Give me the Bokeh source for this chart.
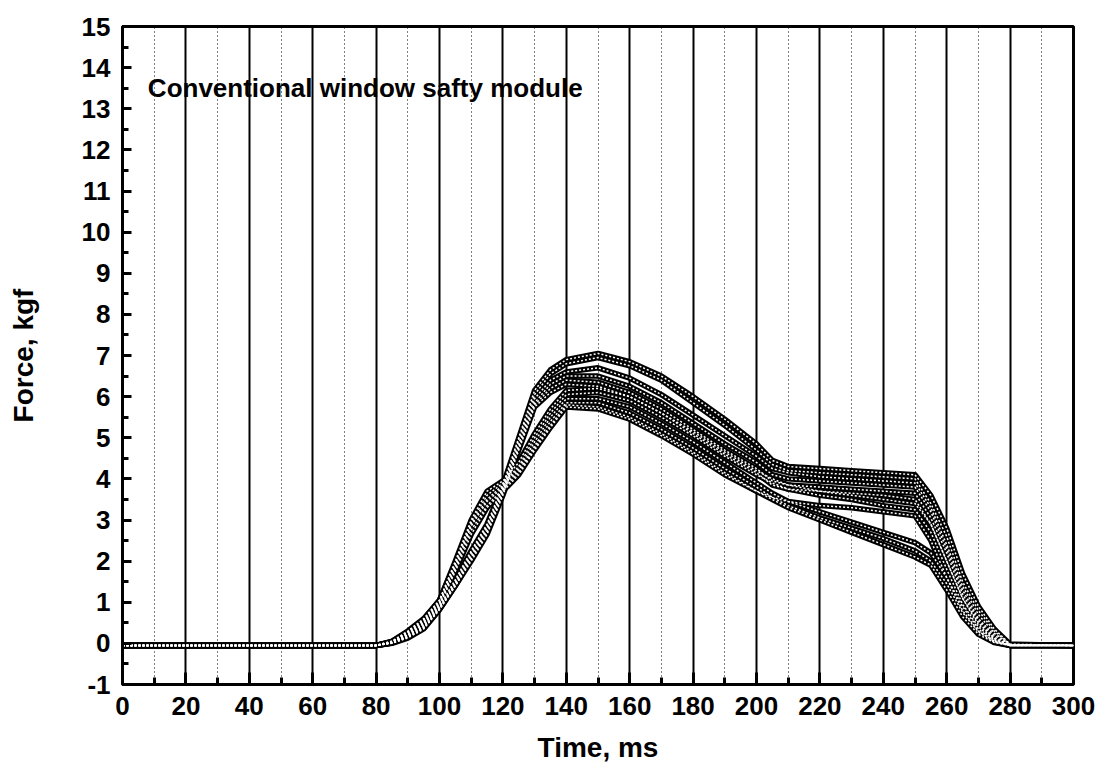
from bokeh.plotting import figure
from bokeh.models import Range1d, Label, SingleIntervalTicker, CustomJSTickFormatter
from bokeh.embed import file_html
from bokeh.resources import INLINE

# ---------------- data ----------------
time_ms = [0, 80, 85, 90, 95, 100, 105, 110, 115, 120, 125, 130, 135, 140, 150, 160,
           170, 180, 190, 200, 205, 210, 220, 230, 240, 250, 255, 260, 265, 270, 275, 280, 300]

# steeper-rising curves (higher peaks)
s1 = [-0.05, -0.05, 0.03, 0.20, 0.45, 0.90, 1.55, 2.25, 2.90, 3.85, 5.00, 6.15, 6.65, 6.90, 7.05, 6.85,
      6.50, 6.00, 5.45, 4.85, 4.45, 4.30, 4.25, 4.20, 4.15, 4.10, 3.60, 2.80, 1.70, 0.90, 0.35, -0.02, -0.05]
s2 = [-0.05, -0.05, 0.02, 0.18, 0.42, 0.88, 1.50, 2.20, 2.85, 3.80, 4.95, 6.05, 6.55, 6.80, 6.95, 6.75,
      6.40, 5.85, 5.30, 4.70, 4.35, 4.20, 4.15, 4.10, 4.05, 4.00, 3.40, 2.60, 1.50, 0.80, 0.30, -0.03, -0.05]
s3 = [-0.05, -0.05, 0.02, 0.17, 0.40, 0.85, 1.45, 2.15, 2.80, 3.75, 4.85, 5.95, 6.40, 6.60, 6.70, 6.45,
      6.05, 5.55, 5.05, 4.55, 4.25, 4.15, 4.05, 4.00, 3.95, 3.90, 3.30, 2.40, 1.40, 0.70, 0.25, -0.03, -0.05]
s4 = [-0.05, -0.05, 0.01, 0.15, 0.38, 0.85, 1.45, 2.10, 2.75, 3.70, 4.80, 5.85, 6.30, 6.50, 6.50, 6.25,
      5.85, 5.35, 4.85, 4.40, 4.10, 4.00, 3.95, 3.90, 3.85, 3.80, 3.20, 2.30, 1.30, 0.60, 0.20, -0.04, -0.05]
s5 = [-0.05, -0.05, 0.01, 0.15, 0.37, 0.83, 1.40, 2.05, 2.70, 3.65, 4.75, 5.80, 6.20, 6.40, 6.35, 6.10,
      5.70, 5.20, 4.70, 4.25, 3.95, 3.85, 3.80, 3.75, 3.70, 3.65, 3.05, 2.20, 1.20, 0.55, 0.15, -0.04, -0.05]
s6 = [-0.05, -0.05, 0.00, 0.13, 0.35, 0.82, 1.40, 2.00, 2.65, 3.60, 4.70, 5.75, 6.10, 6.30, 6.25, 6.00,
      5.60, 5.10, 4.60, 4.15, 3.85, 3.75, 3.70, 3.65, 3.60, 3.50, 2.90, 2.00, 1.10, 0.50, 0.12, -0.05, -0.05]

# curves with the shoulder near 115-120 ms (lower peaks)
h1 = [-0.05, -0.05, 0.05, 0.30, 0.60, 1.05, 2.00, 3.00, 3.70, 3.95, 4.40, 5.10, 5.70, 6.15, 6.20, 6.00,
      5.60, 5.15, 4.65, 4.20, 4.00, 3.85, 3.70, 3.60, 3.50, 3.40, 2.90, 2.00, 1.10, 0.45, 0.10, -0.05, -0.05]
h2 = [-0.05, -0.05, 0.05, 0.28, 0.58, 1.05, 1.95, 2.95, 3.60, 3.90, 4.30, 5.00, 5.60, 6.05, 6.10, 5.90,
      5.50, 5.05, 4.55, 4.10, 3.90, 3.75, 3.60, 3.50, 3.35, 3.25, 2.70, 1.80, 0.95, 0.40, 0.08, -0.05, -0.05]
h3 = [-0.05, -0.05, 0.04, 0.27, 0.55, 1.00, 1.90, 2.90, 3.50, 3.85, 4.25, 4.90, 5.50, 5.95, 5.95, 5.75,
      5.35, 4.90, 4.40, 3.90, 3.65, 3.45, 3.20, 2.95, 2.70, 2.45, 2.20, 1.60, 0.90, 0.35, 0.05, -0.05, -0.05]
h4 = [-0.05, -0.05, 0.03, 0.25, 0.52, 0.98, 1.85, 2.85, 3.45, 3.80, 4.20, 4.80, 5.40, 5.85, 5.85, 5.60,
      5.20, 4.75, 4.25, 3.80, 3.55, 3.35, 3.05, 2.80, 2.55, 2.25, 2.00, 1.45, 0.75, 0.28, 0.03, -0.05, -0.05]
h5 = [-0.05, -0.05, 0.03, 0.22, 0.50, 0.95, 1.80, 2.75, 3.35, 3.75, 4.15, 4.75, 5.30, 5.80, 5.75, 5.50,
      5.10, 4.65, 4.15, 3.70, 3.50, 3.30, 3.00, 2.70, 2.40, 2.10, 1.90, 1.30, 0.65, 0.22, 0.02, -0.05, -0.05]
h6 = [-0.05, -0.05, 0.02, 0.20, 0.48, 0.92, 1.75, 2.65, 3.30, 3.70, 4.10, 4.70, 5.25, 5.75, 5.70, 5.45,
      5.05, 4.60, 4.10, 3.70, 3.55, 3.45, 3.35, 3.30, 3.20, 3.10, 2.50, 1.60, 0.80, 0.30, 0.05, -0.05, -0.05]

curves = [s1, s2, s3, s4, s5, s6, h1, h2, h3, h4, h5, h6]

x_tick_step = 20
y_tick_step = 1
title_text = "Conventional window safty module"
x_label = "Time, ms"
y_label = "Force, kgf"

FONT = "Liberation Sans"

p = figure(width=1095, height=781, output_backend="svg", toolbar_location=None,
           x_range=Range1d(0, 300), y_range=Range1d(-1, 15),
           min_border_left=122, min_border_right=22, min_border_top=26, min_border_bottom=97)

p.background_fill_color = "white"
p.border_fill_color = "white"
p.outline_line_color = "black"
p.outline_line_width = 3

# grid: solid major verticals, dotted minor verticals, no horizontals
p.xaxis.ticker = SingleIntervalTicker(interval=x_tick_step, num_minor_ticks=2)
p.yaxis.ticker = SingleIntervalTicker(interval=y_tick_step, num_minor_ticks=2)
p.xgrid.grid_line_color = "black"
p.xgrid.grid_line_width = 2
p.xgrid.minor_grid_line_color = "black"
p.xgrid.minor_grid_line_width = 1
p.xgrid.minor_grid_line_dash = "1 3"
p.ygrid.grid_line_color = None

plain = CustomJSTickFormatter(code="return tick.toString();")

for ax in (p.xaxis, p.yaxis):
    ax.formatter = plain
    ax.axis_line_width = 3
    ax.axis_line_color = "black"
    ax.major_tick_line_width = 3
    ax.minor_tick_line_width = 3
    ax.major_tick_out = 0
    ax.minor_tick_out = 0
    ax.major_label_text_font = FONT
    ax.major_label_text_font_style = "bold"
    ax.major_label_text_font_size = "26px"
    ax.major_label_text_color = "black"
    ax.axis_label_text_font = FONT
    ax.axis_label_text_font_style = "bold"
    ax.axis_label_text_font_size = "28px"
    ax.axis_label_text_color = "black"

p.xaxis.major_tick_in = 12
p.xaxis.minor_tick_in = 7
p.yaxis.major_tick_in = 9
p.yaxis.minor_tick_in = 6
p.xaxis.major_label_standoff = 12
p.yaxis.major_label_standoff = 12
p.xaxis.axis_label = x_label
p.yaxis.axis_label = y_label
p.xaxis.axis_label_standoff = 14
p.yaxis.axis_label_standoff = 40

# curves: dark chains of hollow markers -> thick black line with a light dashed core
for c in curves:
    p.line(time_ms, c, line_color="black", line_width=5.5, line_join="round")
for c in curves:
    p.line(time_ms, c, line_color="white", line_width=1.5, line_dash="2 2", line_join="round")

p.add_layout(Label(x=8, y=13.5, text=title_text, text_font=FONT, text_font_style="bold",
                   text_font_size="26px", text_color="black", text_baseline="middle"))

open("out.html", "w").write(file_html(p, INLINE))
